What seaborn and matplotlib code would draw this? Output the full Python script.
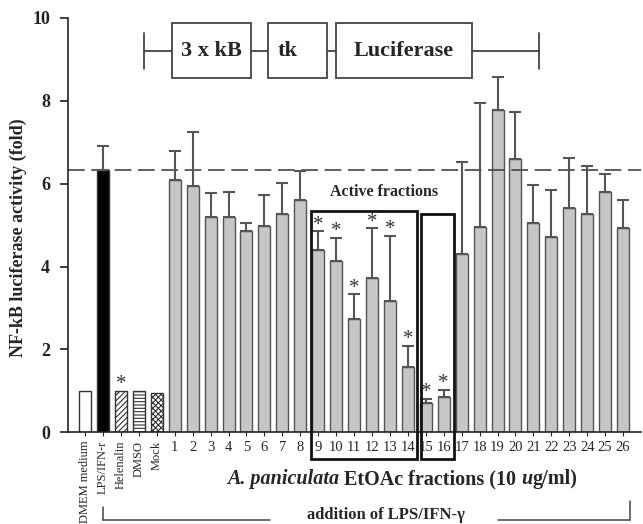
import numpy as np
import pandas as pd
import matplotlib
matplotlib.use("Agg")
import matplotlib.pyplot as plt
import matplotlib.transforms as mtransforms
from matplotlib.patches import Rectangle
from matplotlib.lines import Line2D
from matplotlib.offsetbox import TextArea, HPacker, AnnotationBbox
import seaborn as sns

# ---------------- data ----------------
controls = ["DMEM medium", "LPS/IFN-r", "Helenalin", "DMSO", "Mock"]
control_values = [1.0, 6.32, 1.0, 1.0, 0.95]
control_err = [0.0, 0.58, 0.0, 0.0, 0.0]

fractions = [str(i) for i in range(1, 27)]
fraction_values = [6.08, 5.94, 5.20, 5.20, 4.87, 4.99, 5.28, 5.60, 4.41, 4.14,
                   2.73, 3.73, 3.16, 1.57, 0.70, 0.85, 4.31, 4.95, 7.77, 6.59,
                   5.05, 4.71, 5.42, 5.27, 5.81, 4.94]
fraction_err = [0.72, 1.30, 0.57, 0.60, 0.18, 0.74, 0.73, 0.70, 0.44, 0.55,
                0.60, 1.19, 1.58, 0.51, 0.10, 0.17, 2.21, 3.00, 0.80, 1.13,
                0.91, 1.15, 1.21, 1.15, 0.43, 0.67]
starred = ["Helenalin", "9", "10", "11", "12", "13", "14", "15", "16"]
reference_level = 6.32

categories = controls + fractions
values = control_values + fraction_values
errors = control_err + fraction_err
df = pd.DataFrame({"group": categories, "fold": values, "err": errors})

GRAY = "#c6c6c6"
palette = {c: GRAY for c in fractions}
palette.update({"DMEM medium": "white", "LPS/IFN-r": "black",
                "Helenalin": "white", "DMSO": "white", "Mock": "white"})

# ---------------- style ----------------
sns.set_theme(style="ticks")
plt.rcParams["font.family"] = ["Liberation Serif", "DejaVu Serif"]
plt.rcParams["hatch.color"] = "#444444"
plt.rcParams["hatch.linewidth"] = 0.8

fig = plt.figure(figsize=(6.43, 5.24), dpi=100)
ax = fig.add_axes([68 / 643, 1 - 432.3 / 524, (641 - 68) / 643, (432.3 - 18) / 524])

sns.barplot(data=df, x="group", y="fold", hue="group", order=categories,
            palette=palette, legend=False, width=0.67, ax=ax,
            edgecolor="#555555", linewidth=1.0, errorbar=None)

hatches = {"Helenalin": "//////", "DMSO": "-----", "Mock": "xxxxxx"}
for patch, cat in zip(ax.patches, categories):
    if cat in hatches:
        patch.set_hatch(hatches[cat])
    if cat in controls:
        patch.set_edgecolor("#333333")

x = np.arange(len(categories))
err_arr = np.array(errors)
mask = err_arr > 0
ax.errorbar(x[mask], np.array(values)[mask],
            yerr=[np.zeros(mask.sum()), err_arr[mask]],
            fmt="none", ecolor="#555555", elinewidth=1.5, capsize=4.5,
            capthick=1.5, zorder=3)

# stars
for cat in starred:
    i = categories.index(cat)
    top = values[i] + errors[i]
    ax.text(i, top + 0.15, "*", ha="center", va="center", fontsize=15,
            color="#333333")

ax.axhline(reference_level, color="#444444", lw=1.2, ls=(0, (10, 4)), zorder=2)

ax.set_xlim(-0.95, 31.0)
ax.set_ylim(0, 10)
ax.set_yticks([0, 2, 4, 6, 8, 10])
ax.set_yticklabels(["0", "2", "4", "6", "8", "10"], fontweight="bold", fontsize=13)
ax.tick_params(axis="y", length=6, width=1.2, pad=7, colors="#222222")
ax.tick_params(axis="x", length=3, width=0.8, pad=3)
ax.set_xticks(x)
ax.set_xticklabels(categories, fontsize=10.5)
for lbl, cat in zip(ax.get_xticklabels(), categories):
    if cat in controls:
        lbl.set_rotation(90)
        lbl.set_va("top")
        lbl.set_ha("center")
        lbl.set_fontsize(9)
ax.set_xlabel("")
ax.set_ylabel("NF-kB luciferase activity (fold)", fontsize=13, fontweight="bold")
ax.yaxis.set_label_coords(-0.072, 0.47)
sns.despine(ax=ax)
for s in ["left", "bottom"]:
    ax.spines[s].set_linewidth(1.2)
    ax.spines[s].set_color("#222222")

# active fraction boxes
ax.add_patch(Rectangle((12.6, -0.65), 18.5 - 12.6, 5.33 + 0.65, fill=False,
                       lw=2.0, ec="#111111", clip_on=False, zorder=4))
ax.add_patch(Rectangle((18.72, -0.65), 20.58 - 18.72, 5.26 + 0.65, fill=False,
                       lw=2.0, ec="#111111", clip_on=False, zorder=4))
ax.text(16.68, 5.80, "Active fractions", ha="center", va="center",
        fontsize=11.5, fontweight="bold")

# construct diagram
yc, yb, yt = 9.21, 8.54, 9.89
lk = dict(color="#444444", lw=1.3)
ax.plot([3.29, 3.29], [8.77, 9.64], **lk)
ax.plot([3.29, 4.87], [yc, yc], **lk)
ax.plot([9.24, 10.22], [yc, yc], **lk)
ax.plot([13.48, 14.0], [yc, yc], **lk)
ax.plot([21.57, 25.32], [yc, yc], **lk)
ax.plot([25.32, 25.32], [8.77, 9.64], **lk)
for (x0, x1, txt) in [(4.87, 9.24, "3 x kB"), (10.22, 13.48, "tk"),
                      (14.0, 21.57, "Luciferase")]:
    ax.add_patch(Rectangle((x0, yb), x1 - x0, yt - yb, fill=True, fc="white",
                           ec="#444444", lw=1.3))
    ax.text((x0 + x1) / 2 if txt != "tk" else x0 + 0.5, (yb + yt) / 2, txt,
            ha="center" if txt != "tk" else "left", va="center",
            fontsize=16, fontweight="bold")

# x-axis title (mixed italic / bold)
bt = mtransforms.blended_transform_factory(ax.transData, fig.transFigure)
fs = 14.5
parts = [("A. paniculata", "italic"), (" EtOAc fractions (10 ", "normal"),
         ("u", "italic"), ("g/ml)", "normal")]
areas = [TextArea(t, textprops=dict(fontsize=fs, fontweight="bold", fontstyle=st,
                                    family=["Liberation Serif"]))
         for t, st in parts]
pack = HPacker(children=areas, sep=0, pad=0, align="baseline")
ab = AnnotationBbox(pack, (17.7, 1 - 479 / 524), xycoords=bt, frameon=False,
                    box_alignment=(0.5, 0.5), pad=0, annotation_clip=False)
ax.add_artist(ab)

# addition bracket
by = 1 - 520 / 524
fig.add_artist(Line2D([1.02, 1.02], [by, 1 - 507 / 524], transform=bt, color="#444444", lw=1.1))
fig.add_artist(Line2D([1.02, 10.3], [by, by], transform=bt, color="#444444", lw=1.1))
fig.add_artist(Line2D([23.0, 30.4], [by, by], transform=bt, color="#444444", lw=1.1))
fig.add_artist(Line2D([30.4, 30.4], [by, 1 - 501 / 524], transform=bt, color="#444444", lw=1.1))
ax.text(16.8, 1 - 515 / 524, "addition of LPS/IFN-\u03b3", transform=bt, ha="center",
        va="center", fontsize=12, fontweight="bold", clip_on=False)

fig.savefig("out.png", dpi=100)
